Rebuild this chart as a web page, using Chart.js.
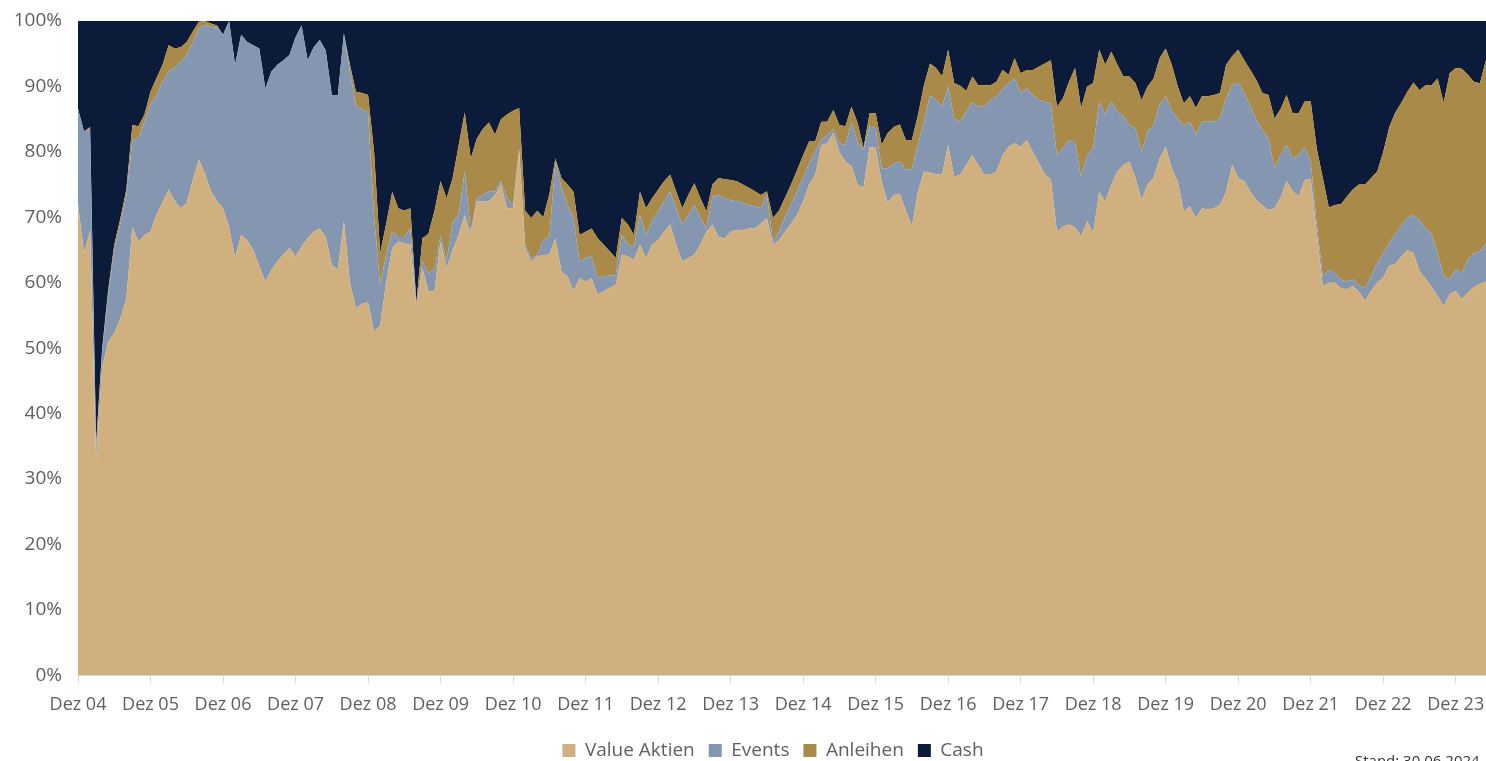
<!DOCTYPE html>
<html><head><meta charset="utf-8">
<script src="https://cdn.jsdelivr.net/npm/chart.js@4"></script>
<style>
html,body{margin:0;padding:0;overflow:hidden;background:#fff;width:1486px;height:761px;}
#wrap{position:absolute;left:0;top:0;width:1503px;height:770px;}
#stand{position:absolute;left:1355px;top:750px;font-family:'Open Sans',sans-serif;font-size:15px;color:#333;white-space:nowrap;}
</style></head><body>
<div id="wrap"><canvas id="c"></canvas></div>
<div id="stand">Stand: 30.06.2024</div>
<script>
// Monthly categories from Dez 04 to Jun 24
const monthNames = ['Jan','Feb','Mär','Apr','Mai','Jun','Jul','Aug','Sep','Okt','Nov','Dez'];
const startMonthIndex = 11, startYear = 4, monthCount = 235;
const categories = [];
for (let i = 0; i < monthCount; i++) {
  const m = (startMonthIndex + i) % 12;
  const y = startYear + Math.floor((startMonthIndex + i) / 12);
  categories.push(monthNames[m] + ' ' + String(y).padStart(2, '0'));
}
const yTickLabels = ['0%','10%','20%','30%','40%','50%','60%','70%','80%','90%','100%'];

const valueAktien = [
72,64.5,68,33,47,51,52.3,54.5,57.5,68.5,66.3,67.3,
67.8,70.4,72.3,74.2,72.5,71.4,72.2,75.7,78.8,76.7,74,72.4,
71.4,68.5,63.8,67.3,66.5,65,62.5,60.2,62,63.3,64.3,65.3,
64,65.5,66.8,67.8,68.3,67,62.7,62,69.4,60,56.1,56.8,
57,52.5,53.5,60,65.3,66.3,66,65.8,56,62.2,58.7,58.7,
66.3,62.2,65,67.3,70.4,67.3,72.4,72.4,72.4,73.4,75,71.4,
71.4,80,65.3,63.2,64,64.2,64.3,66.8,61.7,61,58.7,60.7,
60.2,60.7,58.2,58.7,59.2,59.7,64.3,64,63.5,65.8,63.8,65.8,
66.5,67.8,68.9,65.8,63.2,63.8,64.3,65.8,67.8,68.9,67,66.8,
67.8,68.1,68,68.3,68.3,69,69.9,65.8,66.5,67.8,69,70.4,
72.4,75,76.5,81,81.3,82.9,80,78.5,77.8,75,74.5,80.8,
80.6,75.5,72.2,73.4,73.6,71,68.6,73.9,77,76.8,76.6,76.5,
81.1,76.2,76.5,78,79.5,78,76.5,76.5,77,79.5,80.8,81.3,
80.8,81.8,80,78.3,76.6,75.8,67.8,68.6,68.9,68.5,67.1,69.4,
67.6,73.9,72.4,75,77,78,78.5,76,72.7,75,76,79,
80.8,77.5,75.5,70.9,71.7,69.9,71.4,71.2,71.4,71.9,73.9,78,
76,75.5,74,72.6,71.8,71.1,71.4,73,75.5,74,73.2,75.7,
75.8,67.5,59.5,60,60,59.2,59,59.5,58.6,57.2,58.8,60,
60.8,62.6,62.9,64,65,64.5,61.8,60.6,59.3,58,56.4,58.3,
58.7,57.5,58.5,59.4,59.8,60.2,63
];
const events = [
14.6,18.6,15.5,1.5,2.5,7.3,12.7,14.5,15.8,13.2,15.8,17.3,
19.4,18.3,18.4,18.1,20.3,22.4,22.6,21.1,20.1,22.7,25.1,26.6,
26.5,31.5,29.5,30.6,30.3,31.3,33.3,29.5,30.3,30,29.7,29.5,
33.5,33.8,27.2,28.2,28.8,28.5,26,26.7,28.7,32.3,30.9,29.7,
29,17.5,6.2,4.3,2.5,0.7,1,2.5,0.5,1,2.8,3.3,
1,1,4.4,3.1,6.6,0.5,0.5,1,1.5,0.6,0.5,1.5,
0.5,0.5,0.5,0.5,0.2,2.3,2.7,11.7,12.8,10.9,11.2,2.5,
3.6,3.3,2.5,2.3,1.9,1.5,3,1.8,2,4.6,3.5,3.6,
4.4,4.7,5,5.6,5.7,6.6,7.6,4.1,0.5,4.3,6.4,6.1,
4.8,4.3,4.2,3.6,3.4,2.4,3.6,0.5,1.3,2.2,3,3.6,
3.6,3.3,3.5,0.8,1.3,0.6,1.3,2.5,6.8,6.5,5.8,3.1,
3,2,5.3,4.8,4.9,6.3,8.7,7.2,7.6,11.9,11.3,10.4,
8.9,8.9,8.1,8.2,8.1,8.9,10.4,11.4,11.5,10,9.7,9.9,
8.2,7.9,8.7,9.7,11,11.6,11.7,12,12.9,12.8,9.1,10.1,
13,13.8,13.3,12.7,9.2,7.5,5.6,7.6,7.3,8.1,8.1,8.2,
7.7,8.7,9.6,13,12.9,12.7,13.2,13.4,13.2,13.2,14.3,12.2,
14.5,13.5,13,12.3,11.5,11,6.1,6.5,5.6,5,6.3,5.1,
2.7,1.5,1.5,2,1.5,1.3,1.2,1,1,2,2.2,3,
3.7,3.5,4.5,4.8,4.9,5.8,7.8,7.7,8.2,6.5,4.6,2.2,
3.3,4,5,5.1,5,5.8,6
];
const anleihen = [
0,0,0.3,1,0.5,0.6,0.8,0.8,0.9,2.4,1.8,1.1,
2,2.6,2.6,4,3,2.2,2,1.6,1,0.6,0.5,0.3,
0,0,0,0,0,0,0,0,0,0,0,0,
0,0,0,0,0,0,0,0,0,1,2.2,2.5,
2.7,10,4.8,4.7,6.1,4.4,4,3.1,0.5,3.6,6,9,
8.2,9.7,6.6,10.6,9,11.2,9.1,10.1,10.6,8.6,9.5,12.8,
14.4,6.2,5.2,6.2,6.8,3.5,6.5,0.5,1.5,3.1,4,4.1,
4,4.3,6.1,4.8,3.7,2.6,2.6,3.1,1.8,3.5,4.1,3.5,
3.3,3,2.6,2.5,2.5,3,3.3,3,2.6,1.8,2.6,2.9,
3.1,3.1,2.8,2.6,2.3,2,0.5,3.6,3.2,3,3,3.2,
3.5,3.3,1.6,2.8,2,2.9,2.8,2.9,2.3,3,0.3,2,
2.3,3.6,5.4,5.6,5.7,4.5,4.5,4.5,5.6,4.8,4.9,4.6,
5.6,5.4,5.5,3.1,3.9,3.3,3.3,2.3,2.2,3,1.3,3.1,
3,2.8,3.8,5,5.9,6.6,7.4,7.6,8.9,11.5,10.5,10.5,
9.9,7.9,7.6,7.6,7.1,6,7.4,6.9,7.9,6.9,7.1,7.1,
7.3,7.1,4.9,3.5,3.9,4.1,3.9,3.9,4.1,3.9,5.1,4.4,
5.1,5,5.5,6.1,5.7,6.6,7.6,7,7.6,6.9,6.4,6.9,
9.2,11.5,15,9.5,10.4,11.5,13,13.8,15.4,15.8,15,14,
15.5,17.7,18.6,18.7,19.3,20.3,19.8,21.9,22.7,26.7,26.5,31.5,
30.8,31.2,28.3,26.2,25.7,28,26.5
];
const cash = [
13.4,16.9,16.2,64.5,50,41.1,34.2,30.2,25.8,15.9,16.1,14.3,
10.8,8.7,6.7,3.7,4.2,4,3.2,1.6,0.1,0,0.4,0.7,
2.1,0,6.7,2.1,3.2,3.7,4.2,10.3,7.7,6.7,6,5.2,
2.5,0.7,6,4,2.9,4.5,11.3,11.3,1.9,6.7,10.8,11,
11.3,20,35.5,31,26.1,28.6,29,28.6,43,33.2,32.5,29,
24.5,27.1,24,19,14,21,18,16.5,15.5,17.4,15,14.3,
13.7,13.3,29,30.1,29,30,26.5,21,24,25,26.1,32.7,
32.2,31.7,33.2,34.2,35.2,36.2,30.1,31.1,32.7,26.1,28.6,27.1,
25.8,24.5,23.5,26.1,28.6,26.6,24.8,27.1,29.1,25,24,24.2,
24.3,24.5,25,25.5,26,26.6,26,30.1,29,27,25,22.8,
20.5,18.4,18.4,15.4,15.4,13.6,15.9,16.1,13.1,15.5,19.4,14.1,
14.1,18.9,17.1,16.2,15.8,18.2,18.2,14.4,9.8,6.5,7.2,8.5,
4.4,9.5,9.9,10.7,8.5,9.8,9.8,9.8,9.3,7.5,8.2,5.7,
8,7.5,7.5,7,6.5,6,13.1,11.8,9.3,7.2,13.3,10,
9.5,4.4,6.7,4.7,6.7,8.5,8.5,9.5,12.1,10,8.8,5.7,
4.2,6.7,10,12.6,11.5,13.3,11.5,11.5,11.3,11,6.7,5.4,
4.4,6,7.5,9,11,11.3,14.9,13.5,11.3,14.1,14.1,12.3,
12.3,19.5,24,28.5,28.1,28,26.8,25.7,25,25,24,23,
20,16.2,14,12.5,10.8,9.4,10.6,9.8,9.8,8.8,12.5,8,
7.2,7.3,8.2,9.3,9.5,6,4.5
];

const colors = { value: '#CFB07E', events: '#8597B0', anleihen: '#A98A48', cash: '#0D1B3B' };
const textColor = '#5f5f5f';

Chart.defaults.font.family = "'Open Sans', sans-serif";
Chart.defaults.font.size = 18;
Chart.defaults.color = textColor;

function areaSet(label, data, color, fill) {
  return { label, data, backgroundColor: color, borderColor: color, borderWidth: 0,
           fill, pointRadius: 0, pointHoverRadius: 0, tension: 0 };
}

const legendShift = {
  id: 'legendShift',
  afterLayout(chart) { const l = chart.legend; if (l) { l.left -= 12; l.right -= 12; } }
};

new Chart(document.getElementById('c'), {
  type: 'line',
  data: {
    labels: categories,
    datasets: [
      areaSet('Value Aktien', valueAktien, colors.value, 'origin'),
      areaSet('Events', events, colors.events, '-1'),
      areaSet('Anleihen', anleihen, colors.anleihen, '-1'),
      areaSet('Cash', cash, colors.cash, '-1')
    ]
  },
  options: {
    responsive: true,
    maintainAspectRatio: false,
    animation: false,
    layout: { padding: { top: 21, right: 0, left: 0, bottom: 0 } },
    plugins: {
      tooltip: { enabled: false },
      legend: {
        position: 'bottom',
        fullSize: false,
        labels: { boxWidth: 13, boxHeight: 13, padding: 14, color: textColor, font: { size: 19 } }
      }
    },
    scales: {
      x: {
        offset: false,
        grid: {
          display: true, drawOnChartArea: false, drawTicks: true, tickLength: 8,
          color: (ctx) => (ctx.index % 12 === 0 ? '#d9d9d9' : 'rgba(0,0,0,0)')
        },
        border: { display: true, color: '#d9d9d9' },
        ticks: {
          autoSkip: false, maxRotation: 0, minRotation: 0, padding: 11, color: textColor,
          font: { size: 18 },
          callback: function (v, i) { const l = categories[i]; return l.startsWith('Dez') ? l : ''; }
        }
      },
      y: {
        stacked: true, min: 0, max: 100,
        grid: { display: false, drawTicks: true, tickLength: 11 },
        border: { display: false },
        afterFit: (scale) => { scale.width = 78; },
        ticks: { stepSize: 10, padding: 5, color: textColor, font: { size: 19 },
                 callback: (v) => yTickLabels[Math.round(v / 10)] }
      }
    }
  },
  plugins: [legendShift]
});
</script></body></html>
